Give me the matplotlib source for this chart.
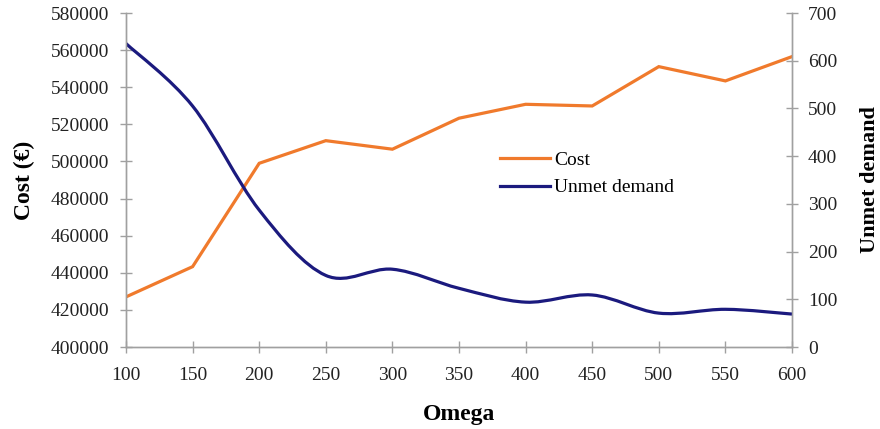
import matplotlib
matplotlib.use("Agg")
import matplotlib.pyplot as plt
from matplotlib.path import Path
from matplotlib.patches import PathPatch
from matplotlib.lines import Line2D

omega = [100, 150, 200, 250, 300, 350, 400, 450, 500, 550, 600]
cost = [427000, 443300, 499000, 511200, 506600, 523300, 530800, 529900, 551100, 543400, 556500]
unmet_demand = [636, 505, 287, 150, 163, 123, 94, 109, 71, 79, 69]

COST_COLOR = "#F07A2C"
DEMAND_COLOR = "#1B1A7E"
AXIS_GREY = "#A0A0A0"

plt.rcParams["font.family"] = ["Liberation Serif", "DejaVu Serif"]


def smooth_path(xs, ys):
    """Cubic Bezier path through the points (spreadsheet-style smoothed line)."""
    pts = list(zip(xs, ys))
    n = len(pts)
    verts = [pts[0]]
    codes = [Path.MOVETO]
    for i in range(n - 1):
        p0 = pts[max(i - 1, 0)]
        p1 = pts[i]
        p2 = pts[i + 1]
        p3 = pts[min(i + 2, n - 1)]
        c1 = (p1[0] + (p2[0] - p0[0]) / 6.0, p1[1] + (p2[1] - p0[1]) / 6.0)
        c2 = (p2[0] - (p3[0] - p1[0]) / 6.0, p2[1] - (p3[1] - p1[1]) / 6.0)
        verts += [c1, c2, p2]
        codes += [Path.CURVE4] * 3
    return Path(verts, codes)


fig = plt.figure(figsize=(8.8, 4.29), dpi=100)
ax1 = fig.add_axes([126 / 880, 1 - 347 / 429, (792 - 126) / 880, (347 - 13) / 429])
ax2 = ax1.twinx()

cost_line, = ax1.plot(omega, cost, color=COST_COLOR, lw=2.3, solid_joinstyle="miter")
ax1.set_xlim(100, 600)
ax1.set_ylim(400000, 580000)
ax1.set_xticks(range(100, 601, 50))
ax1.set_yticks(range(400000, 580001, 20000))

demand_patch = PathPatch(smooth_path(omega, unmet_demand), fill=False,
                         edgecolor=DEMAND_COLOR, lw=2.3, capstyle="butt")
ax2.add_patch(demand_patch)
ax2.set_ylim(0, 700)
ax2.set_yticks(range(0, 701, 100))

for ax in (ax1, ax2):
    ax.spines["top"].set_visible(False)
    for side in ("left", "right", "bottom"):
        ax.spines[side].set_color(AXIS_GREY)
        ax.spines[side].set_linewidth(1.0)
    ax.tick_params(direction="inout", length=9, width=1.0, color=AXIS_GREY,
                   labelsize=14, labelcolor="#222222")
ax1.tick_params(axis="x", pad=10)
ax1.tick_params(axis="y", pad=7.5)
ax2.tick_params(axis="y", pad=7)

ax1.set_xlabel("Omega", fontsize=17, fontweight="bold", labelpad=14)
ax1.set_ylabel("Cost (€)", fontsize=17, fontweight="bold", labelpad=11)
ax2.set_ylabel("Unmet demand", fontsize=16, fontweight="bold", labelpad=16)

handles = [cost_line, Line2D([], [], color=DEMAND_COLOR, lw=2.3)]
leg = ax2.legend(handles, ["Cost", "Unmet demand"], loc="upper left",
                 bbox_to_anchor=(482 / 880, 1 - 134 / 429), bbox_transform=fig.transFigure,
                 frameon=False, fontsize=14, handlelength=2.6, handletextpad=0.2,
                 labelspacing=0.5)

fig.savefig("out.png", dpi=100)
